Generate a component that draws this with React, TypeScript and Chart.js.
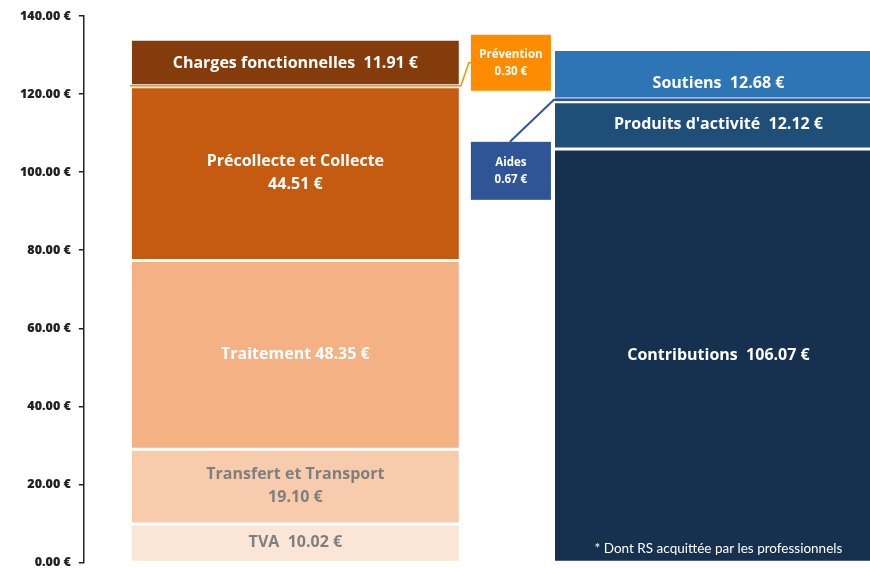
import React, { useEffect, useRef } from "react";
import { Chart, registerables } from "chart.js";

Chart.register(...registerables);

const categories = ["Dépenses", "Recettes"];

const leftNames = ["TVA", "Transfert et Transport", "Traitement", "Précollecte et Collecte", "Prévention", "Charges fonctionnelles"];
const leftValues = [10.02, 19.1, 48.35, 44.51, 0.3, 11.91];
const leftColors = ["#FBE5D6", "#F8CBAD", "#F4B183", "#C55A11", "#FF8C00", "#843C0C"];
const leftLabels = [["TVA  10.02 €"], ["Transfert et Transport", "19.10 €"], ["Traitement 48.35 €"], ["Précollecte et Collecte", "44.51 €"], ["Prévention", "0.30 €"], ["Charges fonctionnelles  11.91 €"]];

const rightNames = ["Contributions", "Produits d'activité", "Aides", "Soutiens"];
const rightValues = [106.07, 12.12, 0.67, 12.68];
const rightColors = ["#15314F", "#1F4E79", "#2F5597", "#2E75B6"];
const rightLabels = [["Contributions  106.07 €"], ["Produits d'activité  12.12 €"], ["Aides", "0.67 €"], ["Soutiens  12.68 €"]];

const yTicks = [0, 20, 40, 60, 80, 100, 120, 140];
const footnote = "* Dont RS acquittée par les professionnels";

const calloutNames = ["Prévention", "Aides"];
const grayText = ["TVA", "Transfert et Transport"];

export default function App() {
  const ref = useRef<HTMLCanvasElement | null>(null);

  useEffect(() => {
    const canvas = ref.current;
    if (!canvas) return;
    document.body.style.margin = "0";

    const datasets: any[] = [];
    leftNames.forEach((n, i) => {
      const thin = calloutNames.includes(n);
      datasets.push({
        label: n,
        data: [leftValues[i], null],
        backgroundColor: leftColors[i],
        borderColor: "#ffffff",
        borderWidth: thin ? 0 : { top: 2, bottom: 1, left: 0, right: 0 },
        borderSkipped: false,
        stack: "s",
        _lines: leftLabels[i],
        _side: 0,
      });
    });
    rightNames.forEach((n, i) => {
      const thin = calloutNames.includes(n);
      datasets.push({
        label: n,
        data: [null, rightValues[i]],
        backgroundColor: rightColors[i],
        borderColor: "#ffffff",
        borderWidth: thin ? 0 : { top: 2, bottom: 1, left: 0, right: 0 },
        borderSkipped: false,
        stack: "s",
        _lines: rightLabels[i],
        _side: 1,
      });
    });

    const labelPlugin = {
      id: "segLabels",
      afterDatasetsDraw(chart: any) {
        const ctx = chart.ctx;
        const ys = chart.scales.y;
        ctx.save();
        let leftBar: any = null;
        let rightBar: any = null;
        chart.data.datasets.forEach((ds: any, di: number) => {
          const meta = chart.getDatasetMeta(di);
          const el = meta.data[ds._side];
          if (!el) return;
          if (ds._side === 0) leftBar = el; else rightBar = el;
        });
        chart.data.datasets.forEach((ds: any, di: number) => {
          const meta = chart.getDatasetMeta(di);
          const el = meta.data[ds._side];
          if (!el) return;
          const props = el.getProps(["x", "y", "base", "width"], true);
          const yc = (props.y + props.base) / 2;
          if (calloutNames.includes(ds.label)) {
            const lb = leftBar.getProps(["x", "width"], true);
            const rb = rightBar.getProps(["x", "width"], true);
            const lRight = lb.x + lb.width / 2;
            const lLeft = lb.x - lb.width / 2;
            const rLeft = rb.x - rb.width / 2;
            const rRight = rb.x + rb.width / 2;
            const boxL = lRight + 12;
            const boxW = rLeft - 4 - boxL;
            let boxT: number, boxH: number;
            ctx.strokeStyle = ds.backgroundColor;
            ctx.lineWidth = ds._side === 0 ? 1.5 : 2;
            ctx.beginPath();
            if (ds._side === 0) {
              boxH = 56;
              boxT = yc - 51;
              const by = boxT + boxH / 2;
              ctx.moveTo(lLeft - 2, yc);
              ctx.lineTo(lRight + 2, yc);
              ctx.lineTo(boxL - 2, by);
              ctx.lineTo(boxL, by);
            } else {
              boxH = 58;
              boxT = yc + 42;
              ctx.moveTo(rRight, yc);
              ctx.lineTo(rLeft - 1, yc);
              ctx.lineTo(boxL + boxW / 2 - 1, boxT);
            }
            ctx.stroke();
            ctx.fillStyle = ds.backgroundColor;
            ctx.fillRect(boxL, boxT, boxW, boxH);
            ctx.fillStyle = "#ffffff";
            ctx.font = "bold 11.5px 'Open Sans'";
            ctx.textAlign = "center";
            ctx.textBaseline = "middle";
            const cy = boxT + boxH / 2;
            ctx.fillText(ds._lines[0], boxL + boxW / 2, cy - 8);
            ctx.fillText(ds._lines[1], boxL + boxW / 2, cy + 9);
            return;
          }
          ctx.fillStyle = grayText.includes(ds.label) ? "#7f7f7f" : "#ffffff";
          ctx.font = "bold 16px 'Open Sans'";
          ctx.textAlign = "center";
          ctx.textBaseline = "middle";
          const shift = ds.label === "Soutiens" ? 10 : ds.label === "Charges fonctionnelles" ? 2 : 0;
          const lines: string[] = ds._lines;
          const lh = 23;
          lines.forEach((t, k) => {
            ctx.fillText(t, props.x, yc + shift + (k - (lines.length - 1) / 2) * lh);
          });
          if (ds.label === "Contributions") {
            ctx.font = "13.5px Lato";
            ctx.fillText(footnote, props.x, ys.getPixelForValue(0) - 14);
          }
        });
        ctx.restore();
      },
    };

    const chart = new Chart(canvas, {
      type: "bar",
      data: { labels: categories, datasets },
      options: {
        responsive: false,
        animation: false,
        layout: { padding: { top: 16, left: 12, right: 0, bottom: 6 } },
        plugins: { legend: { display: false }, tooltip: { enabled: false } },
        datasets: { bar: { categoryPercentage: 1, barPercentage: 0.773 } },
        scales: {
          x: { stacked: true, display: false },
          y: {
            stacked: true,
            min: yTicks[0],
            max: yTicks[yTicks.length - 1],
            afterBuildTicks: (s: any) => {
              s.ticks = yTicks.map((v) => ({ value: v }));
            },
            ticks: {
              callback: (v: any) => Number(v).toFixed(2) + " €",
              font: { family: "'Open Sans'", weight: "800", size: 12.5 },
              color: "#222222",
              padding: 8,
            },
            grid: { display: true, drawOnChartArea: false, drawTicks: true, tickLength: 5, color: "#222222", lineWidth: 1.5 },
            border: { display: true, color: "#222222", width: 1.5 },
          },
        },
      },
      plugins: [labelPlugin],
    } as any);
    return () => chart.destroy();
  }, []);

  return (
    <div style={{ position: "fixed", left: 0, top: 0, width: 870, height: 568, overflow: "hidden", background: "#ffffff" }}>
      <canvas ref={ref} width={930} height={578} style={{ display: "block" }} />
    </div>
  );
}
